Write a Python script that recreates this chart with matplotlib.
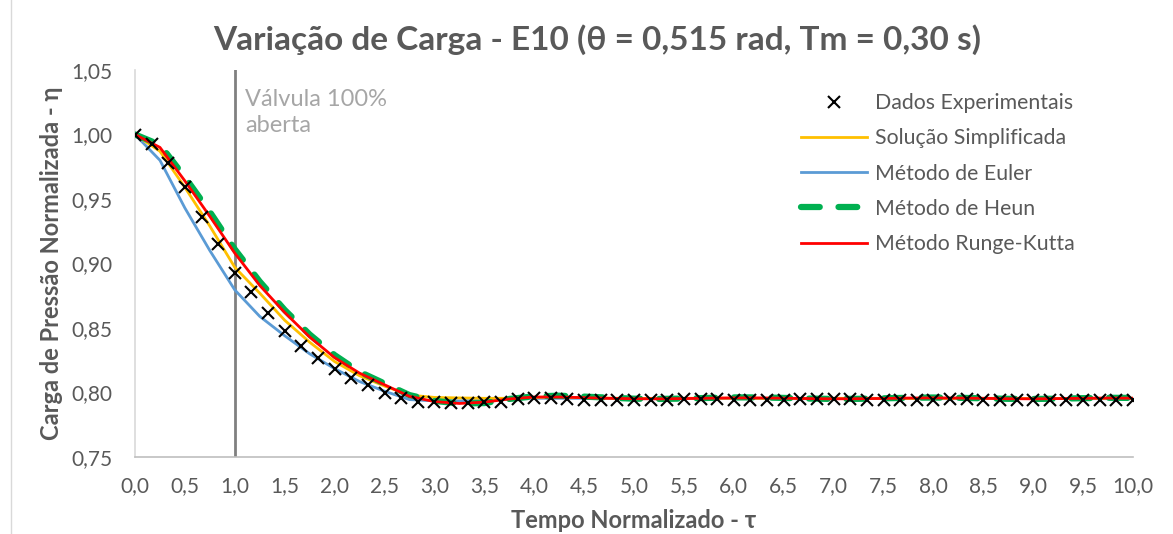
import numpy as np
import matplotlib.pyplot as plt
from matplotlib.lines import Line2D
from matplotlib.ticker import MultipleLocator, FuncFormatter

# experimental data: tau = k/6, k = 0..60
tau_exp = [k / 6 for k in range(61)]
eta_exp = [1.000, 0.993, 0.978, 0.959, 0.936, 0.915, 0.893, 0.878, 0.862, 0.848,
           0.836, 0.827, 0.818, 0.811, 0.806, 0.800, 0.796, 0.793, 0.793, 0.792,
           0.792, 0.793, 0.793, 0.795, 0.796, 0.796, 0.795, 0.794, 0.794, 0.794,
           0.794, 0.794, 0.794, 0.795, 0.795, 0.795, 0.794, 0.794, 0.794, 0.794,
           0.795, 0.795, 0.795, 0.795, 0.794, 0.794, 0.794, 0.794, 0.794, 0.795,
           0.795, 0.794, 0.794, 0.794, 0.794, 0.794, 0.794, 0.794, 0.794, 0.794,
           0.794]

# model curves, tau step 0.25
tau_mod = [0.25 * i for i in range(41)]
eta_simpl = [1.000, 0.987, 0.959, 0.929, 0.897, 0.877, 0.856, 0.839, 0.824, 0.813,
             0.805, 0.798, 0.7962, 0.7958, 0.7955, 0.7955, 0.7962, 0.7965, 0.7960, 0.7956,
             0.7954, 0.7954, 0.7955, 0.7956, 0.7956, 0.7955, 0.7954, 0.7954, 0.7955, 0.7955,
             0.7955, 0.7954, 0.7954, 0.7955, 0.7955, 0.7955, 0.7954, 0.7954, 0.7955, 0.7955,
             0.7955]
eta_euler = [1.000, 0.980, 0.943, 0.910, 0.8795, 0.859, 0.844, 0.830, 0.8185, 0.8085,
             0.801, 0.7945, 0.7935, 0.7935, 0.794, 0.795, 0.7955, 0.7955, 0.7955, 0.7953,
             0.7952, 0.7952, 0.7953, 0.7954, 0.7954, 0.7953, 0.7952, 0.7952, 0.7953, 0.7954,
             0.7954, 0.7953, 0.7952, 0.7952, 0.7953, 0.7954, 0.7954, 0.7953, 0.7952, 0.7952,
             0.7953]
eta_heun = [1.000, 0.992, 0.967, 0.940, 0.911, 0.886, 0.864, 0.845, 0.829, 0.816,
            0.807, 0.798, 0.7935, 0.7915, 0.7918, 0.795, 0.797, 0.7975, 0.7968, 0.796,
            0.7952, 0.795, 0.7953, 0.7958, 0.7962, 0.7962, 0.7958, 0.7953, 0.795, 0.7951,
            0.7955, 0.7959, 0.7961, 0.7959, 0.7955, 0.7951, 0.795, 0.7952, 0.7956, 0.7959,
            0.7958]
eta_rk = [1.000, 0.990, 0.964, 0.9365, 0.908, 0.883, 0.862, 0.843, 0.827, 0.815,
          0.806, 0.797, 0.793, 0.7915, 0.7925, 0.795, 0.7965, 0.7965, 0.796, 0.7955,
          0.7952, 0.7951, 0.7953, 0.7956, 0.7958, 0.7958, 0.7956, 0.7953, 0.7951, 0.7952,
          0.7954, 0.7957, 0.7958, 0.7957, 0.7955, 0.7952, 0.7951, 0.7953, 0.7955, 0.7957,
          0.7956]

plt.rcParams['font.family'] = ['Lato', 'DejaVu Sans']
txt = '#595959'

fig = plt.figure(figsize=(11.73, 5.34), dpi=100)
ax = fig.add_axes([135 / 1173, 1 - 457 / 534, (1133 - 135) / 1173, (457 - 70) / 534])

ax.axvline(1.0, color='#808080', lw=2, zorder=1)
ax.text(1.1, 1.035, 'Válvula 100%\naberta', color='#A6A6A6', fontsize=17,
        va='top', ha='left', linespacing=1.3)

ax.plot(tau_exp, eta_exp, ls='none', marker='x', color='black', ms=9, mew=1.5,
        label='Dados Experimentais', zorder=6)
ax.plot(tau_mod, eta_simpl, color='#FFC000', lw=2, label='Solução Simplificada', zorder=3)
ax.plot(tau_mod, eta_euler, color='#5B9BD5', lw=2, label='Método de Euler', zorder=2)
ax.plot(tau_mod, eta_heun, color='#00B050', lw=4.5, ls=(0, (3, 3)), solid_capstyle='round',
        dash_capstyle='round', label='Método de Heun', zorder=4)
ax.plot(tau_mod, eta_rk, color='#FF0000', lw=2, label='Método Runge-Kutta', zorder=5)

ax.set_xlim(0, 10)
ax.set_ylim(0.75, 1.05)
ax.xaxis.set_major_locator(MultipleLocator(0.5))
ax.yaxis.set_major_locator(MultipleLocator(0.05))
ax.xaxis.set_major_formatter(FuncFormatter(lambda v, p: f'{v:.1f}'.replace('.', ',')))
ax.yaxis.set_major_formatter(FuncFormatter(lambda v, p: f'{v:.2f}'.replace('.', ',')))
ax.tick_params(length=0, labelsize=15, colors=txt)
ax.tick_params(axis='x', pad=14)
ax.tick_params(axis='y', pad=16)
for s in ['top', 'right']:
    ax.spines[s].set_visible(False)
ax.spines['left'].set_color('#D9D9D9')
ax.spines['bottom'].set_color('#BFBFBF')
ax.spines['left'].set_linewidth(1.2)
ax.spines['bottom'].set_linewidth(1.2)

fig.text(597 / 1173, 1 - 40 / 534, 'Variação de Carga - E10 (θ = 0,515 rad, Tm = 0,30 s)',
         fontsize=24, fontweight='bold', color=txt, ha='center', va='center')
ax.set_xlabel('Tempo Normalizado - τ', fontsize=17, fontweight='bold', color=txt, labelpad=9)
ax.set_ylabel('Carga de Pressão Normalizada - η', fontsize=17, fontweight='bold', color=txt,
              labelpad=6)

leg = ax.legend(loc='upper left', bbox_to_anchor=(0.648, 0.99), frameon=False, fontsize=15.3,
                handlelength=3.1, labelspacing=0.72, handletextpad=0.4)
for t in leg.get_texts():
    t.set_color(txt)

fig.add_artist(Line2D([11 / 1173, 11 / 1173], [0, 1], color='#D9D9D9', lw=1))

fig.savefig('out.png', dpi=100)
